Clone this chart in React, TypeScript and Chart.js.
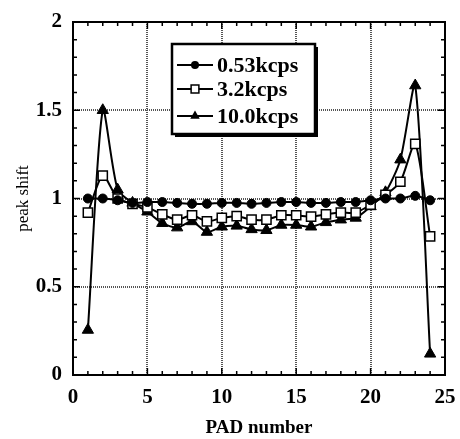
import React, { useEffect, useRef } from "react";
import { Chart, registerables } from "chart.js";

Chart.register(...registerables);

const padNumbers = [1, 2, 3, 4, 5, 6, 7, 8, 9, 10, 11, 12, 13, 14, 15, 16, 17, 18, 19, 20, 21, 22, 23, 24];
const series053 = [1.0, 1.0, 0.99, 0.975, 0.98, 0.98, 0.975, 0.97, 0.97, 0.975, 0.975, 0.97, 0.975, 0.98, 0.98, 0.975, 0.975, 0.98, 0.98, 0.99, 1.0, 1.0, 1.015, 0.99];
const series32 = [0.92, 1.13, 1.0, 0.97, 0.95, 0.91, 0.88, 0.905, 0.87, 0.89, 0.9, 0.88, 0.88, 0.905, 0.905, 0.897, 0.91, 0.92, 0.92, 0.965, 1.02, 1.095, 1.31, 0.785];
const series100 = [0.255, 1.5, 1.05, 0.975, 0.925, 0.86, 0.835, 0.87, 0.81, 0.84, 0.845, 0.825, 0.82, 0.85, 0.85, 0.84, 0.865, 0.88, 0.89, 0.955, 1.035, 1.22, 1.64, 0.12];
const seriesLabels = ["0.53kcps", "3.2kcps", "10.0kcps"];
const xTicks = [0, 5, 10, 15, 20, 25];
const yTicks = [0, 0.5, 1, 1.5, 2];
const xTitle = "PAD number";
const yTitle = "peak shift";

const FONT = "'Liberation Serif', 'Times New Roman', serif";

function drawMarker(ctx: CanvasRenderingContext2D, style: string, x: number, y: number, r: number) {
  ctx.save();
  ctx.lineWidth = 1.5;
  ctx.strokeStyle = "#000";
  ctx.beginPath();
  if (style === "circle") {
    ctx.arc(x, y, r, 0, Math.PI * 2);
    ctx.fillStyle = "#000";
    ctx.fill();
  } else if (style === "rect") {
    const s = Math.SQRT1_2 * r;
    ctx.rect(x - s, y - s, 2 * s, 2 * s);
    ctx.fillStyle = "#fff";
    ctx.fill();
    ctx.stroke();
  } else {
    const h = (r * 3) / Math.sqrt(3);
    ctx.moveTo(x - h / 2, y + r / 2);
    ctx.lineTo(x, y - r);
    ctx.lineTo(x + h / 2, y + r / 2);
    ctx.closePath();
    ctx.fillStyle = "#000";
    ctx.fill();
  }
  ctx.restore();
}

const framePlugin = {
  id: "framePlugin",
  beforeDatasetsDraw(chart: any) {
    const { ctx, chartArea: a, scales } = chart;
    const xs = scales.x;
    const ys = scales.y;
    ctx.save();
    ctx.strokeStyle = "#555";
    ctx.lineWidth = 2;
    ctx.setLineDash([1, 1]);
    xTicks.slice(1, -1).forEach((v) => {
      const p = Math.round(xs.getPixelForValue(v));
      ctx.beginPath();
      ctx.moveTo(p, a.top);
      ctx.lineTo(p, a.bottom);
      ctx.stroke();
    });
    yTicks.slice(1, -1).forEach((v) => {
      const p = Math.round(ys.getPixelForValue(v));
      ctx.beginPath();
      ctx.moveTo(a.left, p);
      ctx.lineTo(a.right, p);
      ctx.stroke();
    });
    ctx.setLineDash([]);
    ctx.strokeStyle = "#000";
    ctx.lineWidth = 1.5;
    for (let v = 0; v <= 25; v++) {
      const p = xs.getPixelForValue(v);
      const len = v % 5 === 0 ? 7 : 4;
      ctx.beginPath();
      ctx.moveTo(p, a.bottom);
      ctx.lineTo(p, a.bottom - len);
      ctx.moveTo(p, a.top);
      ctx.lineTo(p, a.top + len);
      ctx.stroke();
    }
    for (let i = 0; i <= 20; i++) {
      const v = i / 10;
      const p = ys.getPixelForValue(v);
      const len = i % 5 === 0 ? 7 : 4;
      ctx.beginPath();
      ctx.moveTo(a.left, p);
      ctx.lineTo(a.left + len, p);
      ctx.moveTo(a.right, p);
      ctx.lineTo(a.right - len, p);
      ctx.stroke();
    }
    ctx.lineWidth = 2;
    ctx.strokeRect(a.left, a.top, a.right - a.left, a.bottom - a.top);
    ctx.fillStyle = "#000";
    ctx.font = `bold 19px ${FONT}`;
    ctx.textAlign = "center";
    ctx.textBaseline = "middle";
    ctx.fillText(xTitle, (a.left + a.right) / 2, 428);
    ctx.save();
    ctx.translate(24, (a.top + a.bottom) / 2);
    ctx.rotate(-Math.PI / 2);
    ctx.font = `17px ${FONT}`;
    ctx.fillText(yTitle, 0, 0);
    ctx.restore();
    ctx.restore();
  },
  afterDatasetsDraw(chart: any) {
    const { ctx } = chart;
    const bx = 172, by = 44, bw = 143, bh = 90;
    ctx.save();
    ctx.fillStyle = "#000";
    ctx.fillRect(bx + 3, by + 3, bw, bh);
    ctx.fillStyle = "#fff";
    ctx.fillRect(bx, by, bw, bh);
    ctx.strokeStyle = "#000";
    ctx.lineWidth = 2.5;
    ctx.strokeRect(bx, by, bw, bh);
    const rows = [65, 89, 116];
    chart.data.datasets.forEach((ds: any, i: number) => {
      const y = rows[i];
      ctx.strokeStyle = "#000";
      ctx.lineWidth = 2;
      ctx.beginPath();
      ctx.moveTo(177, y);
      ctx.lineTo(213, y);
      ctx.stroke();
      drawMarker(ctx, ds.pointStyle, 195, y, ds.pointStyle === "circle" ? 4 : 5.5);
      ctx.fillStyle = "#000";
      ctx.font = `bold 22px ${FONT}`;
      ctx.textAlign = "left";
      ctx.textBaseline = "middle";
      ctx.fillText(seriesLabels[i], 217, y + 1);
    });
    ctx.restore();
  },
};

export default function App() {
  const ref = useRef<HTMLCanvasElement | null>(null);
  useEffect(() => {
    if (!ref.current) return;
    const mk = (vals: number[]) => padNumbers.map((x, i) => ({ x, y: vals[i] }));
    const chart = new Chart(ref.current, {
      type: "line",
      data: {
        datasets: [
          {
            label: seriesLabels[0],
            data: mk(series053),
            borderColor: "#000",
            backgroundColor: "#000",
            borderWidth: 2,
            pointStyle: "circle",
            pointRadius: 4.5,
            pointBorderWidth: 1,
            pointBackgroundColor: "#000",
            tension: 0.25,
          },
          {
            label: seriesLabels[1],
            data: mk(series32),
            borderColor: "#000",
            backgroundColor: "#fff",
            borderWidth: 2,
            pointStyle: "rect",
            pointRadius: 6.5,
            pointBorderWidth: 1.5,
            pointBackgroundColor: "#fff",
            tension: 0.25,
          },
          {
            label: seriesLabels[2],
            data: mk(series100),
            borderColor: "#000",
            backgroundColor: "#000",
            borderWidth: 2,
            pointStyle: "triangle",
            pointRadius: 6.5,
            pointBorderWidth: 1,
            pointBackgroundColor: "#000",
            tension: 0.25,
          },
        ],
      },
      options: {
        responsive: false,
        animation: false,
        layout: { padding: { top: 22, right: 15, left: 0, bottom: 0 } },
        plugins: { legend: { display: false }, tooltip: { enabled: false } },
        scales: {
          x: {
            type: "linear",
            min: 0,
            max: 25,
            grid: { display: false },
            border: { display: false },
            afterFit: (s: any) => {
              s.height = 64;
            },
            afterBuildTicks: (s: any) => {
              s.ticks = xTicks.map((v) => ({ value: v }));
            },
            ticks: {
              color: "#000",
              padding: 2,
              maxRotation: 0,
              font: { family: FONT, size: 21, weight: "bold" },
            },
          },
          y: {
            type: "linear",
            min: 0,
            max: 2,
            grid: { display: false },
            border: { display: false },
            afterFit: (s: any) => {
              s.width = 73;
            },
            afterBuildTicks: (s: any) => {
              s.ticks = yTicks.map((v) => ({ value: v }));
            },
            ticks: {
              color: "#000",
              padding: 3,
              font: { family: FONT, size: 21, weight: "bold" },
              callback: (v: any) => String(v),
            },
          },
        },
      },
      plugins: [framePlugin],
    } as any);
    return () => chart.destroy();
  }, []);
  return (
    <div style={{ position: "fixed", left: 0, top: 0, width: 460, height: 439, background: "#fff" }}>
      <canvas ref={ref} width={460} height={439} />
    </div>
  );
}
